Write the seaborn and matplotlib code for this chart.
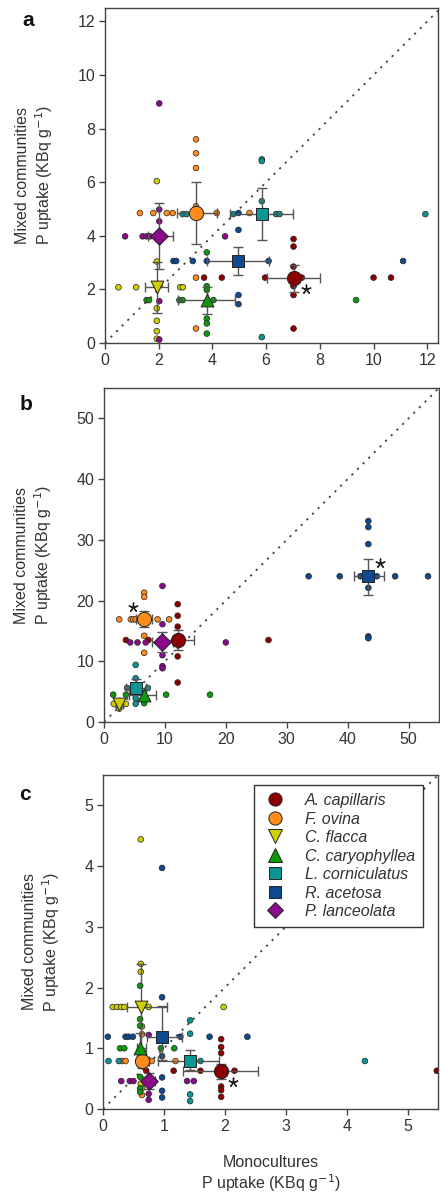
import numpy as np
import pandas as pd
import matplotlib
matplotlib.use("Agg")
import matplotlib.pyplot as plt
from matplotlib.lines import Line2D
import seaborn as sns

sns.set_style("ticks")
plt.rcParams['font.family'] = ['Liberation Sans', 'DejaVu Sans']

SPECIES = ["A. capillaris", "F. ovina", "C. flacca", "C. caryophyllea",
           "L. corniculatus", "R. acetosa", "P. lanceolata"]
COLORS = ["#8B0000", "#FF8C1A", "#CFCF00", "#0A9A0A", "#0B9595", "#0D4A8F", "#8B0A8B"]
MARKERS = ["o", "o", "v", "^", "s", "s", "D"]

# ---- panel a ----
A_MEAN_X = [7.02, 3.39, 1.93, 3.79, 5.84, 4.97, 2.02]
A_MEAN_Y = [2.44, 4.85, 2.08, 1.60, 4.81, 3.06, 3.98]
A_X_LO = [6.02, 2.67, 1.49, 2.73, 4.66, 3.79, 1.61]
A_X_HI = [8.01, 4.16, 2.36, 4.84, 6.99, 6.09, 2.55]
A_Y_LO = [1.91, 3.69, 1.13, 1.10, 3.85, 2.54, 2.75]
A_Y_HI = [2.91, 6.00, 3.04, 2.10, 5.79, 3.60, 5.23]
A_MONO = [[3.69, 4.35, 5.96, 7.33, 10.0, 10.65],
          [1.30, 1.80, 2.30, 2.52, 4.16, 5.38],
          [0.50, 1.16, 2.80, 2.90],
          [1.55, 1.64, 2.77, 2.89, 4.04, 9.35],
          [2.89, 3.04, 4.78, 6.37, 6.50, 11.93],
          [2.55, 2.65, 3.27, 3.79, 6.09, 11.1],
          [0.75, 1.40, 1.55, 1.68, 4.47]]
A_MIX = [[3.88, 3.60, 2.85, 2.12, 1.79, 0.54],
         [7.60, 7.08, 6.53, 5.10, 2.44, 0.54],
         [6.04, 3.04, 1.29, 0.83, 0.44, 0.16],
         [3.38, 2.12, 1.98, 0.91, 0.73, 0.35],
         [6.85, 6.79, 5.29, 0.22],
         [4.85, 4.22, 1.79, 1.45],
         [8.94, 4.98, 4.54, 1.56, 0.13]]
A_STAR_X = [7.49]
A_STAR_Y = [2.0]

# ---- panel b ----
B_MEAN_X = [12.1, 6.6, 2.5, 6.6, 5.2, 43.4, 9.6]
B_MEAN_Y = [13.5, 16.9, 3.0, 4.5, 5.6, 24.0, 13.1]
B_X_LO = [9.5, 5.3, 1.9, 4.1, 3.6, 41.1, 7.8]
B_X_HI = [14.8, 7.8, 3.2, 8.6, 6.9, 45.9, 11.4]
B_Y_LO = [11.9, 15.7, 2.4, 3.8, 4.6, 20.9, 11.5]
B_Y_HI = [15.1, 18.2, 3.5, 5.2, 7.0, 26.9, 14.8]
B_MONO = [[3.6, 7.3, 27.0],
          [2.5, 4.4, 4.8, 5.2, 8.8, 10.7],
          [1.6, 3.6],
          [1.5, 3.6, 10.2, 17.4],
          [3.8, 7.2],
          [33.6, 38.7, 42.1, 44.8, 47.8, 53.2],
          [4.3, 5.5, 6.85, 20.0]]
B_MIX = [[19.4, 17.5, 15.7, 10.8, 6.5],
         [21.3, 20.6, 14.2, 11.4],
         [2.2],
         [3.1],
         [9.4, 7.2, 3.9, 3.0],
         [33.1, 32.1, 29.3, 22.1, 14.1, 13.8],
         [22.4, 16.1, 11.0, 9.2, 8.85]]
B_STAR_X = [4.8, 45.3]
B_STAR_Y = [18.9, 26.2]

# ---- panel c ----
C_MEAN_X = [1.94, 0.64, 0.62, 0.61, 1.43, 0.97, 0.75]
C_MEAN_Y = [0.63, 0.79, 1.68, 1.00, 0.79, 1.19, 0.46]
C_X_LO = [1.32, 0.55, 0.39, 0.55, 0.90, 0.72, 0.65]
C_X_HI = [2.55, 0.75, 1.05, 0.70, 1.90, 1.29, 0.85]
C_Y_LO = [0.49, 0.67, 0.97, 0.80, 0.64, 0.81, 0.33]
C_Y_HI = [0.74, 0.89, 2.39, 1.25, 0.97, 1.69, 0.59]
C_MONO = [[0.71, 1.16, 1.60, 2.16, 5.48],
          [0.31, 0.37, 0.80, 1.19],
          [0.16, 0.23, 0.30, 0.35, 0.75, 1.98],
          [0.28, 0.35, 0.95, 1.17],
          [0.09, 0.26, 1.60, 4.30],
          [0.08, 0.37, 0.42, 0.49, 1.27, 1.75, 2.37],
          [0.30, 0.44, 0.50, 1.38, 1.49]]
C_MIX = [[1.15, 1.02, 0.92, 0.37, 0.31, 0.20],
         [1.36, 1.23, 0.34, 0.23],
         [4.44, 2.39, 2.26, 0.42],
         [2.03, 1.48, 1.37, 0.53, 0.34, 0.28],
         [1.46, 1.24, 0.24, 0.13],
         [3.97, 1.84, 0.87, 0.52, 0.30, 0.19],
         [1.22, 0.15, 0.25]]
C_STAR_X = [2.13]
C_STAR_Y = [0.45]

PANELS = [
    dict(label="a", ly=0.962, mx=A_MEAN_X, my=A_MEAN_Y, xlo=A_X_LO, xhi=A_X_HI, ylo=A_Y_LO, yhi=A_Y_HI,
         mono=A_MONO, mix=A_MIX, sx=A_STAR_X, sy=A_STAR_Y, xlim=12.4, ylim=12.5,
         ticks=[0, 2, 4, 6, 8, 10, 12], rect=[105/440, 1-343/1196, 333/440, 335/1196]),
    dict(label="b", ly=0.952, mx=B_MEAN_X, my=B_MEAN_Y, xlo=B_X_LO, xhi=B_X_HI, ylo=B_Y_LO, yhi=B_Y_HI,
         mono=B_MONO, mix=B_MIX, sx=B_STAR_X, sy=B_STAR_Y, xlim=55, ylim=55,
         ticks=[0, 10, 20, 30, 40, 50], rect=[104/440, 1-722/1196, 335/440, 334/1196]),
    dict(label="c", ly=0.942, mx=C_MEAN_X, my=C_MEAN_Y, xlo=C_X_LO, xhi=C_X_HI, ylo=C_Y_LO, yhi=C_Y_HI,
         mono=C_MONO, mix=C_MIX, sx=C_STAR_X, sy=C_STAR_Y, xlim=5.5, ylim=5.5,
         ticks=[0, 1, 2, 3, 4, 5], rect=[103/440, 1-1109/1196, 335/440, 334/1196]),
]

MEAN_SIZES = {"o": 105, "v": 85, "^": 85, "s": 78, "D": 80}
FS = 11.5

fig = plt.figure(figsize=(4.4, 11.96), dpi=100)
AXCOL = "#444444"
ERRCOL = "#555555"
TXT = "#333333"

for p in PANELS:
    ax = fig.add_axes(p["rect"])
    rows = []
    for i, sp in enumerate(SPECIES):
        for v in p["mono"][i]:
            rows.append((sp, v, p["my"][i]))
        for v in p["mix"][i]:
            rows.append((sp, p["mx"][i], v))
    small = pd.DataFrame(rows, columns=["species", "x", "y"])
    sns.scatterplot(data=small, x="x", y="y", hue="species", hue_order=SPECIES,
                    palette=COLORS, s=17, edgecolor="#222222", linewidth=0.5,
                    legend=False, ax=ax, zorder=3)
    lim = min(p["xlim"], p["ylim"])
    ax.plot([0, lim], [0, lim], linestyle=(0, (1.2, 3.2)), color="#444444", lw=1.3, zorder=2)
    for i, sp in enumerate(SPECIES):
        mx, my = p["mx"][i], p["my"][i]
        ax.errorbar(mx, my,
                    xerr=[[mx - p["xlo"][i]], [p["xhi"][i] - mx]],
                    yerr=[[my - p["ylo"][i]], [p["yhi"][i] - my]],
                    fmt="none", ecolor=ERRCOL, elinewidth=1.0, capsize=3.5,
                    capthick=1.0, zorder=4)
    means = pd.DataFrame({"species": SPECIES, "x": p["mx"], "y": p["my"]})
    for i, sp in enumerate(SPECIES):
        sns.scatterplot(data=means.iloc[[i]], x="x", y="y", color=COLORS[i],
                        marker=MARKERS[i], s=MEAN_SIZES[MARKERS[i]],
                        edgecolor="#222222", linewidth=0.7, legend=False, ax=ax, zorder=5)
    ax.scatter(p["sx"], p["sy"], marker=(5, 2, 0), s=40, color="#222222", lw=1.0, zorder=6)

    ax.set_xlim(0, p["xlim"])
    ax.set_ylim(0, p["ylim"])
    ax.set_xticks(p["ticks"])
    ax.set_yticks(p["ticks"])
    for s in ax.spines.values():
        s.set_visible(True)
        s.set_color(AXCOL)
        s.set_linewidth(1.0)
    ax.tick_params(direction="out", length=4, width=1.0, color=AXCOL,
                   labelsize=FS, labelcolor=TXT, pad=3)
    ax.set_ylabel("Mixed communities\nP uptake (KBq g$^{-1}$)", fontsize=FS,
                  color=TXT, labelpad=16, linespacing=1.2)
    if p["label"] == "c":
        ax.set_xlabel("Monocultures\nP uptake (KBq g$^{-1}$)", fontsize=FS,
                      color=TXT, labelpad=15, linespacing=1.15)
    else:
        ax.set_xlabel("")
    ax.text(-0.232, p["ly"], p["label"], transform=ax.transAxes, fontsize=15,
            fontweight="bold", ha="center", va="center", color="#111111")

    if p["label"] == "c":
        handles = [Line2D([], [], linestyle="none", marker=MARKERS[i],
                          markerfacecolor=COLORS[i], markeredgecolor="#222222",
                          markeredgewidth=0.7,
                          markersize=9.5 if MARKERS[i] in ("o", "v", "^") else 8.5)
                   for i in range(len(SPECIES))]
        leg = ax.legend(handles, SPECIES, loc="upper right",
                        bbox_to_anchor=(0.955, 0.97), frameon=True, fancybox=False,
                        edgecolor="#333333", framealpha=1, fontsize=FS,
                        handletextpad=1.0, borderpad=0.5, labelspacing=0.22,
                        borderaxespad=0.0, handlelength=1.7)
        leg.get_frame().set_linewidth(1.0)
        for t in leg.get_texts():
            t.set_fontstyle("italic")
            t.set_color(TXT)

fig.savefig("out.png", dpi=100)
